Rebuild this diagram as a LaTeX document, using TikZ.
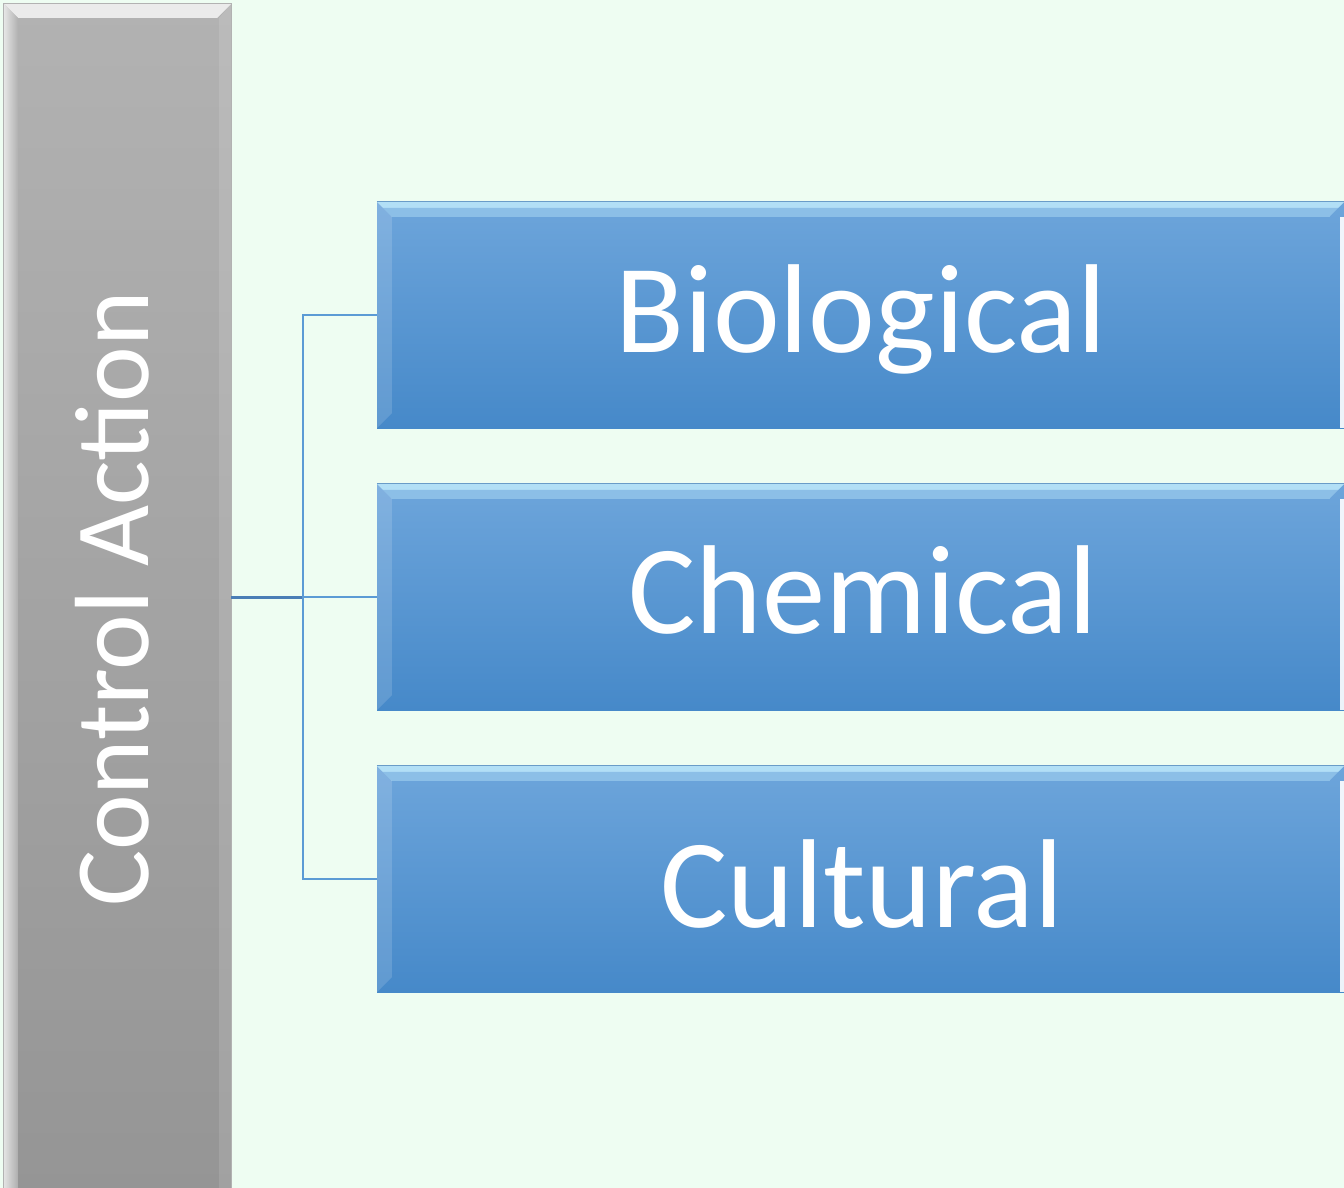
\documentclass[tikz,border=0pt]{standalone}
\usepackage{fontspec}
\setmainfont{Carlito}
\usetikzlibrary{calc}

\definecolor{bgmint}{HTML}{EEFDF2}
\definecolor{grayTop}{HTML}{B2B2B2}
\definecolor{grayBot}{HTML}{959595}
\definecolor{blueTop}{HTML}{6DA5DB}
\definecolor{blueBot}{HTML}{4689C9}
\definecolor{blueEdge}{HTML}{6A9CC8}
\definecolor{linkBlue}{HTML}{5B9BD5}
\definecolor{linkDark}{HTML}{4A7EB6}

\tikzset{
  sidebox/.style={rectangle, inner sep=0pt, draw=none,
    top color=grayTop, bottom color=grayBot,
    minimum width=227pt, minimum height=1190pt},
  catbox/.style={rectangle, inner sep=0pt, draw=none,
    top color=blueTop, bottom color=blueBot,
    minimum width=967pt, minimum height=226pt},
  sidetext/.style={text=white, font=\fontsize{105.5}{110}\selectfont, rotate=90, anchor=base, inner sep=0pt},
  cattext/.style={text=white, font=\fontsize{126.5}{130}\selectfont, anchor=base, inner sep=0pt},
  link/.style={draw=linkBlue, line width=2.2pt},
  trunk/.style={draw=linkDark, line width=3pt},
}

\begin{document}
\begin{tikzpicture}[x=1pt,y=-1pt]
  \fill[bgmint] (0,0) rectangle (1344,1188);
  \useasboundingbox (0,0) rectangle (1344,1188);
  \clip (0,0) rectangle (1344,1188);

  % left column
  \node[sidebox] (ca) at (117.5,599) {};
  % bevel highlights of the left column
  \fill[white, opacity=0.75] (ca.north west) -- (ca.north east) -- ([xshift=-14pt,yshift=-14pt]ca.north east) -- ([xshift=14pt,yshift=-14pt]ca.north west) -- cycle;
  \shade[left color=white!85!gray, right color=grayTop, shading angle=90, opacity=0.9]
    (ca.north west) -- ([xshift=14pt,yshift=-14pt]ca.north west) -- ([xshift=14pt]ca.south west) -- (ca.south west) -- cycle;
  \fill[white, opacity=0.12] (ca.north east) -- ([xshift=-12pt,yshift=-14pt]ca.north east) -- ([xshift=-12pt]ca.south east) -- (ca.south east) -- cycle;
  \draw[gray!60, line width=0.8pt] (ca.north west) rectangle (ca.south east);
  \node[sidetext] (catxt) at (148,599) {Control Action};

  % three category boxes
  \foreach \name/\cy in {bio/315, chem/597, cult/879} {
    \node[catbox] (\name) at (860.5,\cy) {};
    \fill[cyan!25!white, opacity=0.85] (\name.north west) -- (\name.north east) -- ([xshift=-15pt,yshift=-15pt]\name.north east) -- ([xshift=15pt,yshift=-15pt]\name.north west) -- cycle;
    \fill[blueTop, opacity=0.55] ([yshift=-6pt]\name.north west) -- ([yshift=-6pt]\name.north east) -- ([xshift=-15pt,yshift=-15pt]\name.north east) -- ([xshift=15pt,yshift=-15pt]\name.north west) -- cycle;
    \fill[white, opacity=0.14] (\name.north west) -- ([xshift=15pt,yshift=-15pt]\name.north west) -- ([xshift=15pt,yshift=15pt]\name.south west) -- (\name.south west) -- cycle;
    \fill[white, opacity=0.9] ([xshift=-4pt,yshift=-15pt]\name.north east) -- ([yshift=-15pt]\name.north east) -- (\name.south east) -- ([xshift=-4pt]\name.south east) -- cycle;
    \draw[blueEdge, line width=0.8pt] (\name.north west) -- (\name.north east);
  }
  \node[cattext] (biotxt)  at (861,352) {Biological};
  \node[cattext] (chemtxt) at (863,633) {Chemical};
  \node[cattext] (culttxt) at (862,927) {Cultural};

  % connectors
  \coordinate (fork) at (303,597);
  \draw[trunk] (ca.east |- fork) -- (fork);
  \draw[link] (bio.west) -| (fork);
  \draw[link] (cult.west) -| (fork);
  \draw[link] (fork) -- (chem.west);
\end{tikzpicture}
\end{document}
